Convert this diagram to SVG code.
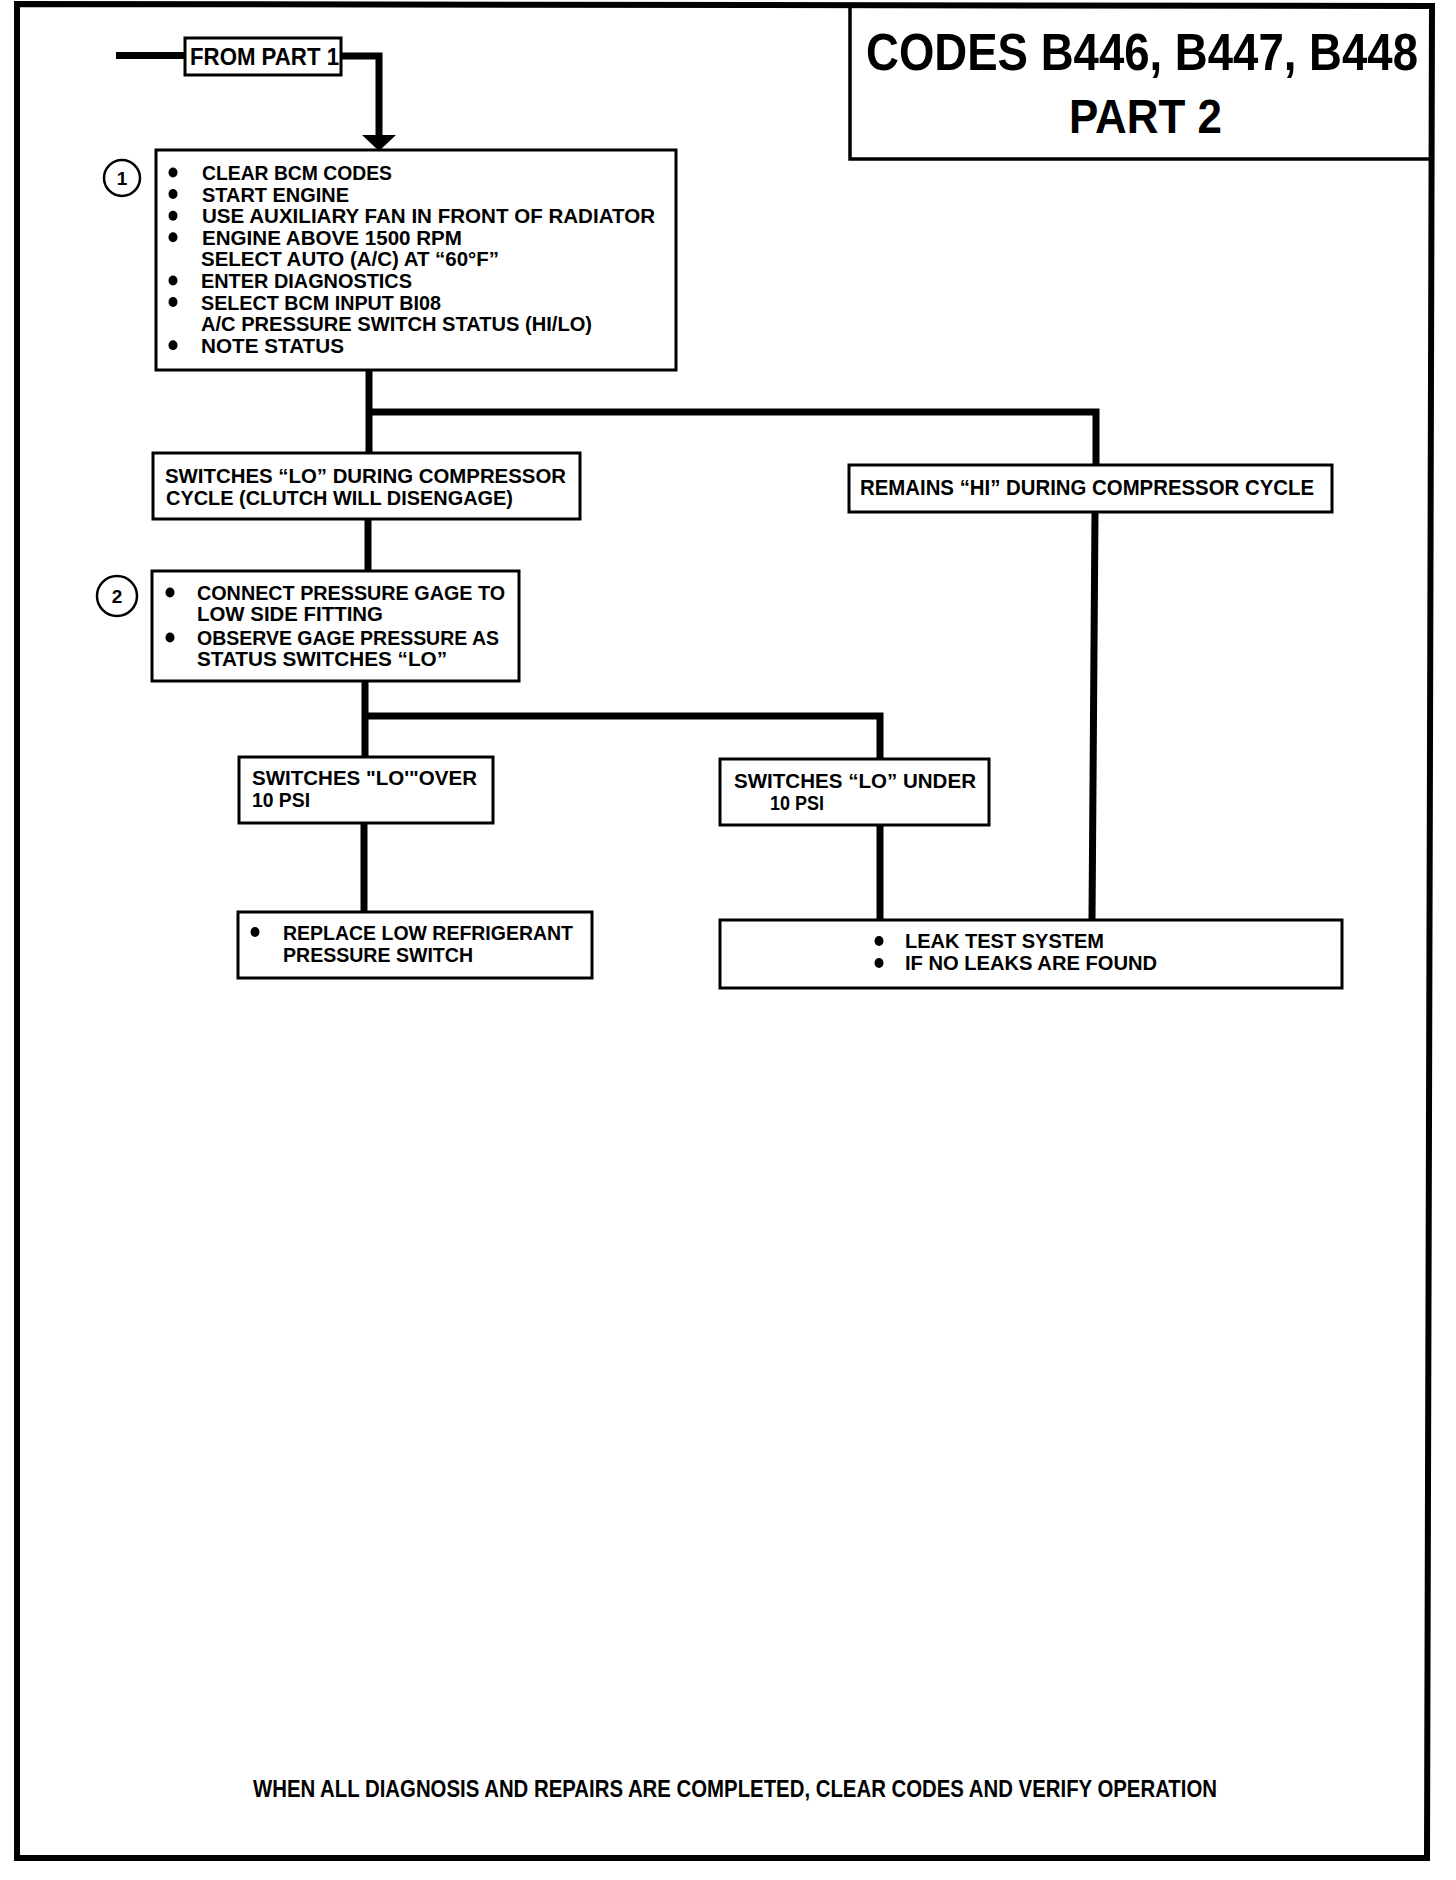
<svg xmlns="http://www.w3.org/2000/svg" width="1456" height="1880" viewBox="0 0 1456 1880">
<style>
.t{font-family:"Liberation Sans",Arial,sans-serif;font-weight:bold;fill:#000}
.b{font-size:21px}
.box{fill:#fff;stroke:#000;stroke-width:3}
.con{fill:none;stroke:#000;stroke-width:7}
.dot{fill:#000}
.num{fill:#fff;stroke:#000;stroke-width:2.5}
</style>
<rect width="1456" height="1880" fill="#fff"/>
<g id="frame">
<path d="M17,1858 L17,4 L1432,6 L1427,1858 Z" fill="none" stroke="#000" stroke-width="6"/>
</g>
<g id="title">
<path d="M850,6 V159 H1432" fill="none" stroke="#000" stroke-width="3.5"/>
<text class="t" transform="translate(866,70) scale(0.8,1)" x="0" y="0" font-size="52" textLength="690" lengthAdjust="spacingAndGlyphs">CODES B446, B447, B448</text>
<text class="t" x="1069" y="133" font-size="49" textLength="153" lengthAdjust="spacingAndGlyphs">PART 2</text>
</g>
<g id="connectors">
<path class="con" d="M116,55.5 H186"/>
<path class="con" d="M340,56 H379 V137"/>
<polygon points="362,135 396,135 379,151" fill="#000"/>
<path class="con" d="M369,370 V453"/>
<path class="con" d="M369,412 H1096 V465"/>
<path class="con" d="M368,519 V572"/>
<path class="con" d="M365,681 V757"/>
<path class="con" d="M365,716 H880 V759"/>
<path class="con" d="M364,823 V912"/>
<path class="con" d="M880,825 V920"/>
<path class="con" d="M1095,512 L1092,920"/>
</g>
<g id="from-part-1">
<rect class="box" x="185" y="38" width="156" height="37"/>
<text class="t" x="190" y="65" font-size="23" textLength="149" lengthAdjust="spacingAndGlyphs">FROM PART 1</text>
</g>
<g id="marker-1">
<circle class="num" cx="122" cy="178" r="18"/>
<text class="t" x="122" y="185" font-size="19" font-weight="normal" text-anchor="middle">1</text>
</g>
<g id="step-1">
<rect class="box" x="156" y="150" width="520" height="220"/>
<g class="dot">
<ellipse cx="173" cy="172.5" rx="4.5" ry="5"/>
<ellipse cx="173" cy="194" rx="4.5" ry="5"/>
<ellipse cx="173" cy="215.7" rx="4.5" ry="5"/>
<ellipse cx="173" cy="237.3" rx="4.5" ry="5"/>
<ellipse cx="173" cy="280.5" rx="4.5" ry="5"/>
<ellipse cx="173" cy="302" rx="4.5" ry="5"/>
<ellipse cx="173" cy="345.3" rx="4.5" ry="5"/>
</g>
<text class="t b" x="202" y="180" textLength="190" lengthAdjust="spacingAndGlyphs">CLEAR BCM CODES</text>
<text class="t b" x="202" y="201.6" textLength="147" lengthAdjust="spacingAndGlyphs">START ENGINE</text>
<text class="t b" x="202" y="223.2" textLength="453" lengthAdjust="spacingAndGlyphs">USE AUXILIARY FAN IN FRONT OF RADIATOR</text>
<text class="t b" x="202" y="244.8" textLength="260" lengthAdjust="spacingAndGlyphs">ENGINE ABOVE 1500 RPM</text>
<text class="t b" x="201" y="266.4" textLength="298" lengthAdjust="spacingAndGlyphs">SELECT AUTO (A/C) AT “60°F”</text>
<text class="t b" x="201" y="288" textLength="211" lengthAdjust="spacingAndGlyphs">ENTER DIAGNOSTICS</text>
<text class="t b" x="201" y="309.6" textLength="240" lengthAdjust="spacingAndGlyphs">SELECT BCM INPUT BI08</text>
<text class="t b" x="201" y="331.2" textLength="391" lengthAdjust="spacingAndGlyphs">A/C PRESSURE SWITCH STATUS (HI/LO)</text>
<text class="t b" x="201" y="352.8" textLength="143" lengthAdjust="spacingAndGlyphs">NOTE STATUS</text>
</g>
<g id="switches-lo-during">
<rect class="box" x="153" y="453" width="427" height="66"/>
<text class="t b" x="165" y="483" textLength="401" lengthAdjust="spacingAndGlyphs">SWITCHES “LO” DURING COMPRESSOR</text>
<text class="t b" x="166" y="505" textLength="347" lengthAdjust="spacingAndGlyphs">CYCLE (CLUTCH WILL DISENGAGE)</text>
</g>
<g id="remains-hi">
<rect class="box" x="849" y="465" width="483" height="47"/>
<text class="t" x="860" y="495" font-size="22" textLength="454" lengthAdjust="spacingAndGlyphs">REMAINS “HI” DURING COMPRESSOR CYCLE</text>
</g>
<g id="marker-2">
<circle class="num" cx="117" cy="596" r="20"/>
<text class="t" x="117" y="603" font-size="19" text-anchor="middle">2</text>
</g>
<g id="step-2">
<rect class="box" x="152" y="571" width="367" height="110"/>
<g class="dot">
<ellipse cx="170" cy="592.5" rx="4.5" ry="5"/>
<ellipse cx="170" cy="637.5" rx="4.5" ry="5"/>
</g>
<text class="t b" x="197" y="600" textLength="308" lengthAdjust="spacingAndGlyphs">CONNECT PRESSURE GAGE TO</text>
<text class="t b" x="197" y="621" textLength="186" lengthAdjust="spacingAndGlyphs">LOW SIDE FITTING</text>
<text class="t b" x="197" y="645" textLength="302" lengthAdjust="spacingAndGlyphs">OBSERVE GAGE PRESSURE AS</text>
<text class="t b" x="197" y="666" textLength="250" lengthAdjust="spacingAndGlyphs">STATUS SWITCHES “LO”</text>
</g>
<g id="switches-lo-over">
<rect class="box" x="239" y="757" width="254" height="66"/>
<text class="t b" x="252" y="785" textLength="225" lengthAdjust="spacingAndGlyphs">SWITCHES "LO'"OVER</text>
<text class="t b" x="252" y="807" textLength="58" lengthAdjust="spacingAndGlyphs">10 PSI</text>
</g>
<g id="switches-lo-under">
<rect class="box" x="720" y="759" width="269" height="66"/>
<text class="t b" x="734" y="788" textLength="242" lengthAdjust="spacingAndGlyphs">SWITCHES “LO” UNDER</text>
<text class="t b" x="770" y="810" textLength="54" lengthAdjust="spacingAndGlyphs">10 PSI</text>
</g>
<g id="replace-switch">
<rect class="box" x="238" y="912" width="354" height="66"/>
<ellipse class="dot" cx="255" cy="932" rx="4.5" ry="5"/>
<text class="t b" x="283" y="940" textLength="290" lengthAdjust="spacingAndGlyphs">REPLACE LOW REFRIGERANT</text>
<text class="t b" x="283" y="962" textLength="190" lengthAdjust="spacingAndGlyphs">PRESSURE SWITCH</text>
</g>
<g id="leak-test">
<rect class="box" x="720" y="920" width="622" height="68"/>
<ellipse class="dot" cx="879" cy="941" rx="4.5" ry="5"/>
<ellipse class="dot" cx="879" cy="963" rx="4.5" ry="5"/>
<text class="t b" x="905" y="948" textLength="199" lengthAdjust="spacingAndGlyphs">LEAK TEST SYSTEM</text>
<text class="t b" x="905" y="970" textLength="252" lengthAdjust="spacingAndGlyphs">IF NO LEAKS ARE FOUND</text>
</g>
<g id="footer">
<text class="t" x="253" y="1797" font-size="24" textLength="964" lengthAdjust="spacingAndGlyphs">WHEN ALL DIAGNOSIS AND REPAIRS ARE COMPLETED, CLEAR CODES AND VERIFY OPERATION</text>
</g>
</svg>
